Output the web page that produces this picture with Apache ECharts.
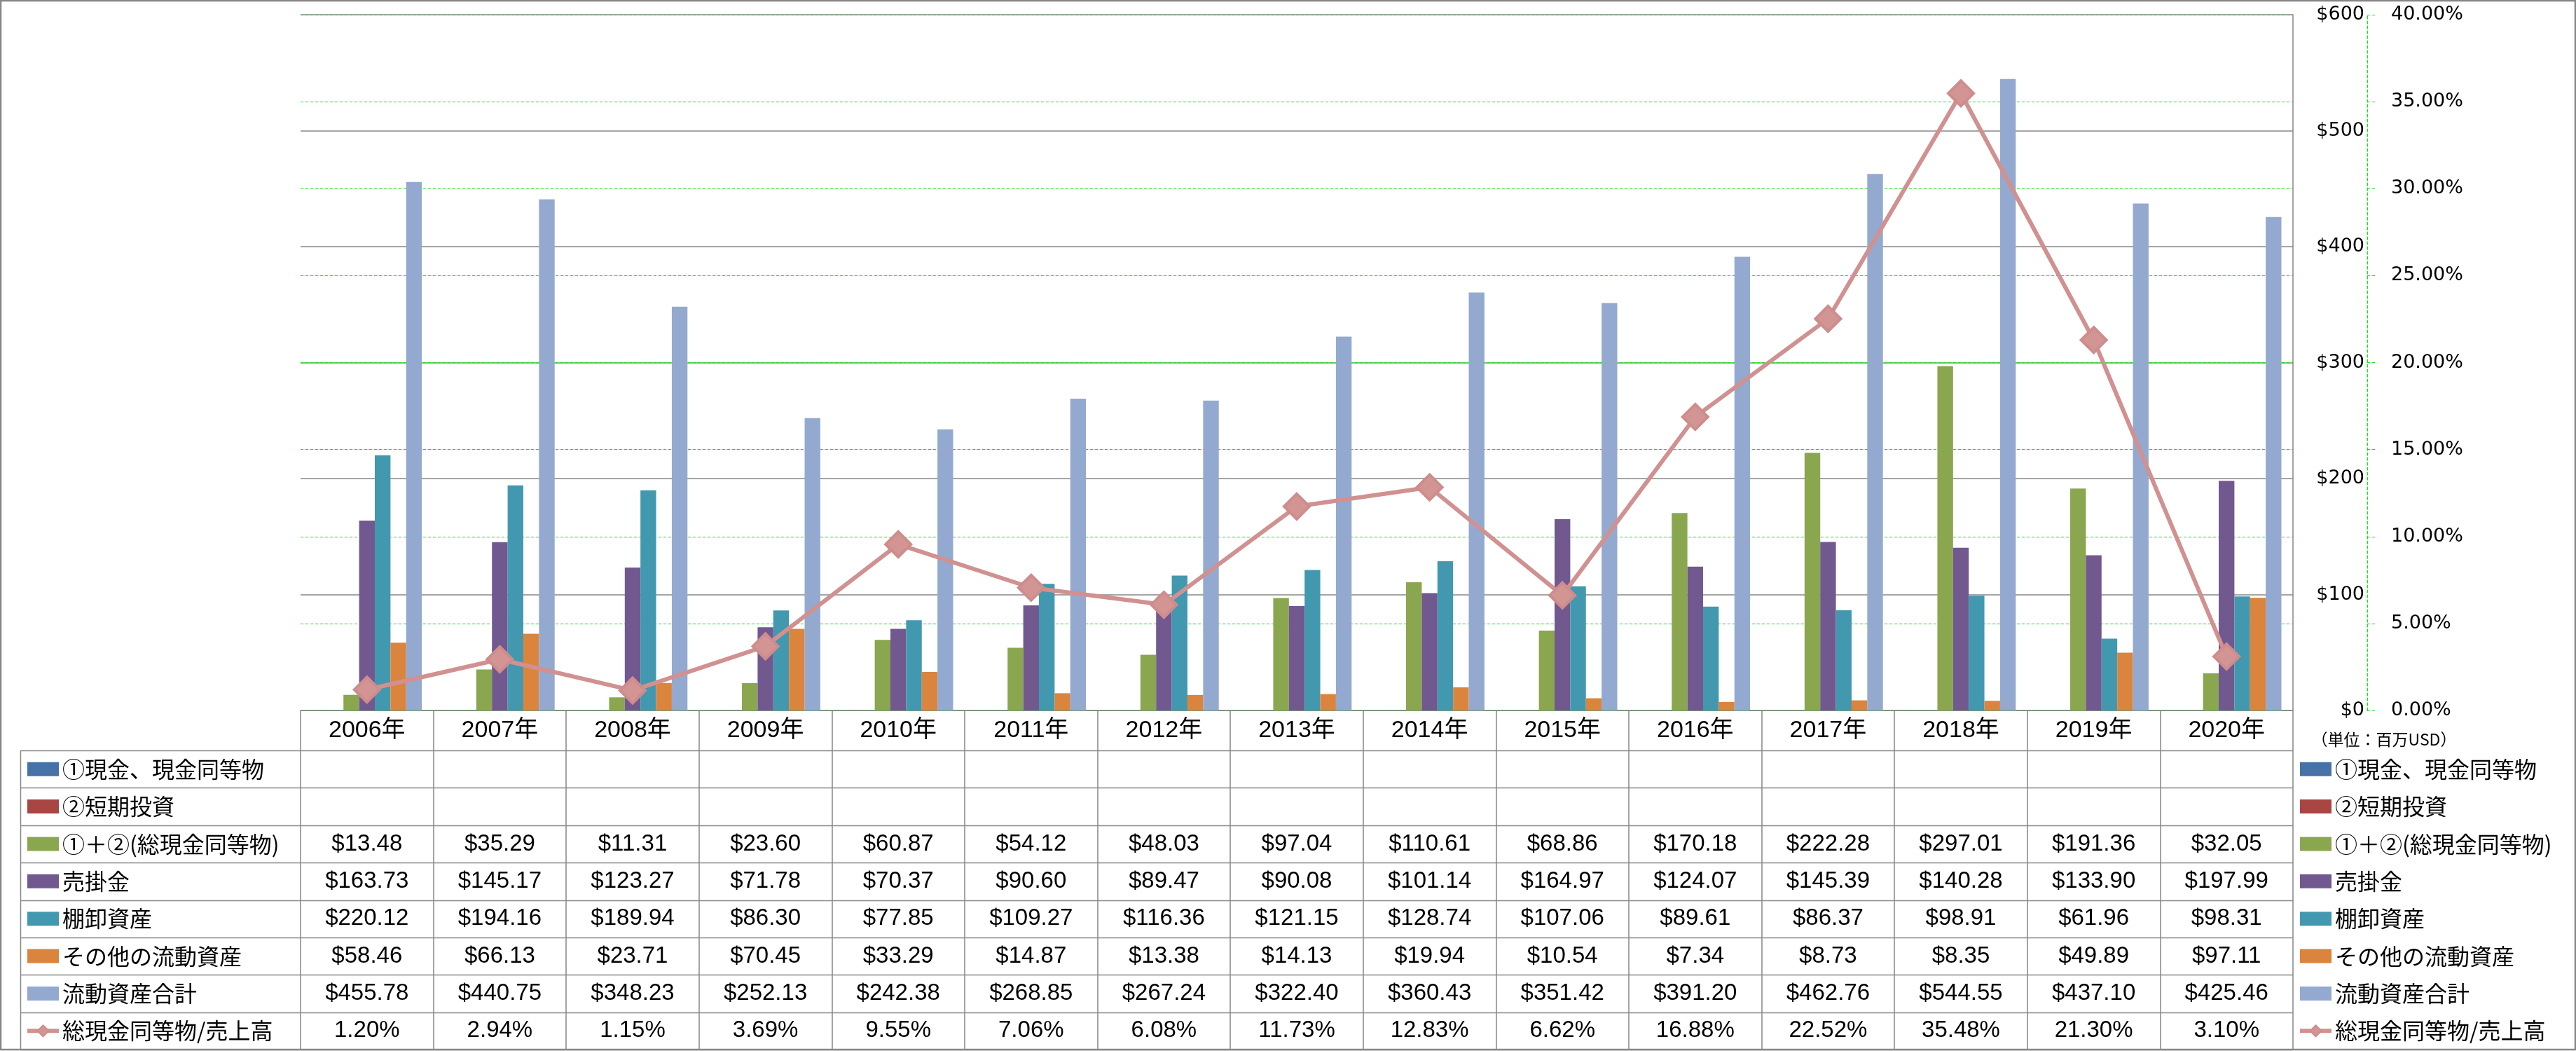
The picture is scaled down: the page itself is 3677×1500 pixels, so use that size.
<!DOCTYPE html>
<html><head><meta charset="utf-8">
<script src="https://cdn.jsdelivr.net/npm/echarts@6/dist/echarts.min.js"></script>
<style>html,body{margin:0;padding:0;background:#fff}#c{width:3677px;height:1500px}</style>
</head><body><div id="c"></div>
<script>
// ---------- data ----------
const years = ['2006年','2007年','2008年','2009年','2010年','2011年','2012年','2013年','2014年','2015年','2016年','2017年','2018年','2019年','2020年'];
const names = ['①現金、現金同等物','②短期投資','①＋②(総現金同等物)','売掛金','棚卸資産','その他の流動資産','流動資産合計','総現金同等物/売上高'];
const cashEq       = [null,null,null,null,null,null,null,null,null,null,null,null,null,null,null];
const shortInv     = [null,null,null,null,null,null,null,null,null,null,null,null,null,null,null];
const totalCash    = [13.48,35.29,11.31,23.60,60.87,54.12,48.03,97.04,110.61,68.86,170.18,222.28,297.01,191.36,32.05];
const receivables  = [163.73,145.17,123.27,71.78,70.37,90.60,89.47,90.08,101.14,164.97,124.07,145.39,140.28,133.90,197.99];
const inventory    = [220.12,194.16,189.94,86.30,77.85,109.27,116.36,121.15,128.74,107.06,89.61,86.37,98.91,61.96,98.31];
const otherCurrent = [58.46,66.13,23.71,70.45,33.29,14.87,13.38,14.13,19.94,10.54,7.34,8.73,8.35,49.89,97.11];
const totalCurrent = [455.78,440.75,348.23,252.13,242.38,268.85,267.24,322.40,360.43,351.42,391.20,462.76,544.55,437.10,425.46];
const cashRatio    = [1.20,2.94,1.15,3.69,9.55,7.06,6.08,11.73,12.83,6.62,16.88,22.52,35.48,21.30,3.10];
const unitLabel = '（単位：百万USD）';

// ---------- styles / layout ----------
const colors = ['#4672A8','#A94543','#8AA64F','#71588F','#4298AF','#DB843D','#94A9CF','#D09190'];
const GL = 429, GR = 3273, GT = 21, GB = 1014, TB = 1498;
const headerH = 57, rowH = (TB - GB - headerH) / 8;
const tFont = "'Liberation Sans','Noto Sans CJK JP',sans-serif";
const jFont = "'Noto Sans CJK JP',sans-serif";
const aFont = "'DejaVu Sans',sans-serif";
const GRAY = '#878787';
const GREEN = '#00EE00';
const LEG_TXT_H = 32;

const barSets = [cashEq, shortInv, totalCash, receivables, inventory, otherCurrent, totalCurrent];
const money = v => (v === null || v === undefined) ? ' ' : '$' + v.toFixed(2);
const pct = v => v.toFixed(2) + '%';

const chart = echarts.init(document.getElementById('c'), null, {renderer: 'canvas'});

const series = barSets.map((d, i) => ({
  name: names[i], type: 'bar', data: d, yAxisIndex: 0,
  barGap: '0%', barCategoryGap: '17.4%',
  itemStyle: {color: colors[i]}, z: 2
}));
series.push({
  name: names[7], type: 'line', data: cashRatio, yAxisIndex: 1,
  symbol: 'diamond', symbolSize: 36,
  lineStyle: {color: colors[7], width: 6},
  itemStyle: {color: '#D39594', borderColor: '#CE8C8C', borderWidth: 4},
  z: 5
});

const legendData = names.map((n, i) => i < 7 ? {name: n, icon: 'rect'} : {name: n});
const legendBase = {
  orient: 'vertical', top: GB + headerH + rowH / 2 - LEG_TXT_H / 2, height: 480, padding: 0,
  itemWidth: 45, itemHeight: 20, itemGap: rowH - LEG_TXT_H,
  textStyle: {fontFamily: jFont, fontSize: 32, lineHeight: LEG_TXT_H, color: '#000'},
  lineStyle: {width: 6},
  data: legendData, selectedMode: false
};

// horizontal table lines
const tableLines = [];
for (let i = 0; i <= 8; i++) {
  const y = Math.round(GB + headerH + i * rowH) + 0.5;
  tableLines.push({type: 'line', shape: {x1: 29, y1: y, x2: GR, y2: y}, style: {stroke: GRAY, lineWidth: 1.5}, silent: true});
}
tableLines.push({type: 'line', shape: {x1: 29.5, y1: GB + headerH, x2: 29.5, y2: TB}, style: {stroke: GRAY, lineWidth: 1.5}, silent: true});

chart.setOption({
  animation: false,
  backgroundColor: '#fff',
  grid: {left: GL, right: 3677 - GR, top: GT, bottom: 1500 - GB, containLabel: false},
  legend: [
    Object.assign({}, legendBase, {left: 36}),
    Object.assign({}, legendBase, {left: 3280})
  ],
  xAxis: {
    type: 'category', data: years, boundaryGap: true,
    axisLine: {show: true, lineStyle: {color: GRAY, width: 1.5}},
    axisTick: {show: true, length: TB - GB, lineStyle: {color: GRAY, width: 1.5}},
    axisLabel: {
      interval: 0, margin: 0, color: '#000', fontFamily: tFont,
      formatter: (val, idx) => {
        const lines = ['{h|' + val + '}'];
        barSets.forEach(d => lines.push('{v|' + money(d[idx]) + '}'));
        lines.push('{v|' + pct(cashRatio[idx]) + '}');
        return lines.join('\n');
      },
      rich: {
        h: {fontSize: 34, lineHeight: headerH, fontFamily: tFont, color: '#000'},
        v: {fontSize: 33, lineHeight: rowH, fontFamily: tFont, color: '#000'}
      }
    },
    splitLine: {show: false}
  },
  yAxis: [
    {
      type: 'value', position: 'right', min: 0, max: 600, interval: 100,
      axisLine: {show: true, lineStyle: {color: GRAY, width: 1.5}},
      axisTick: {show: false},
      axisLabel: {align: 'right', margin: 102, fontFamily: aFont, fontSize: 27, color: '#000',
        formatter: v => '$' + v},
      splitLine: {show: true, lineStyle: {color: GRAY, width: 1.5}}
    },
    {
      type: 'value', position: 'right', offset: 106, min: 0, max: 40, interval: 5,
      axisLine: {show: true, lineStyle: {color: GREEN, width: 1.2, type: [4, 3]}},
      axisTick: {show: true, inside: false, length: 11, lineStyle: {color: GREEN, width: 1.2, type: [4, 3]}},
      axisLabel: {margin: 34, fontFamily: aFont, fontSize: 27, color: '#000',
        formatter: v => v.toFixed(2) + '%'},
      splitLine: {show: true, lineStyle: {color: GREEN, width: 1.2, type: [4, 3]}}
    }
  ],
  series: series,
  graphic: [
    {type: 'rect', shape: {x: 1, y: 1, width: 3675, height: 1497}, style: {fill: null, stroke: GRAY, lineWidth: 2.5}, silent: true, z: 100},
    {type: 'text', x: 3403, y: 1055, style: {text: unitLabel, font: "23px 'Noto Sans CJK JP'", fill: '#000', align: 'center', verticalAlign: 'middle'}, silent: true},
    ...tableLines
  ]
});
</script>
</body></html>
